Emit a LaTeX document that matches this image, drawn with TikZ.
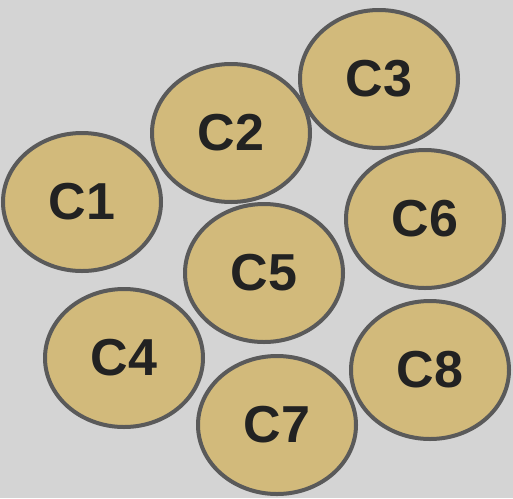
\documentclass[tikz,border=0pt]{standalone}
\usepackage{fontspec}
\setmainfont{Liberation Sans}
\usetikzlibrary{shapes.geometric}

\definecolor{bggray}{HTML}{D4D4D4}
\definecolor{celltan}{HTML}{D2BA7B}
\definecolor{cellrim}{HTML}{5A5A5A}
\definecolor{celltext}{HTML}{222222}

\begin{document}
\begin{tikzpicture}[
      x=1pt, y=-1pt,
      cell/.style={ellipse, draw=cellrim, line width=4pt, fill=celltan, inner sep=0pt,
        minimum width=158pt, minimum height=138pt, text=celltext,
        font=\fontsize{52}{52}\selectfont\bfseries},
    ]
    \fill[bggray] (0,0) rectangle (513,498);
    \useasboundingbox (0,0) rectangle (513,498);

    \node[cell] (c1) at (82,202) {C1};
    \node[cell] (c2) at (231,133) {C2};
    \node[cell] (c3) at (379,79) {C3};
    \node[cell] (c4) at (124,358) {C4};
    \node[cell] (c5) at (264,273) {C5};
    \node[cell] (c6) at (425,219) {C6};
    \node[cell] (c7) at (277,425) {C7};
    \node[cell] (c8) at (430,370) {C8};
  \end{tikzpicture}
\end{document}
